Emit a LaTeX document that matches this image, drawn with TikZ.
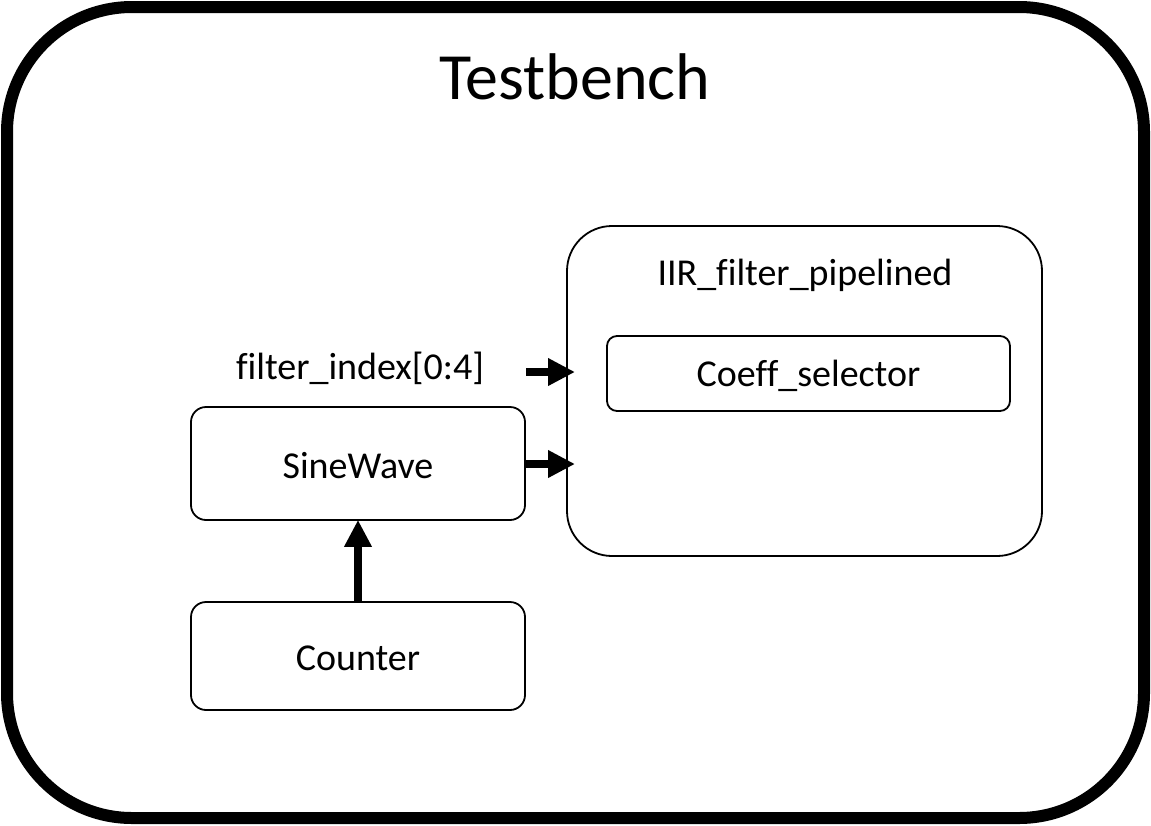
\documentclass[tikz,border=0pt]{standalone}
\usepackage{fontspec}
\setmainfont{Carlito}[Ligatures=NoCommon]
\usetikzlibrary{arrows.meta}
\tikzset{
  blk/.style={draw=black, line width=1.8pt, rounded corners=15pt, inner sep=0pt},
  lbl/.style={inner sep=0pt, font=\fontsize{38}{46}\selectfont},
  bigarrow/.style={line width=8pt, -{Triangle[length=27pt,width=26pt]}}
}
\begin{document}
\begin{tikzpicture}[x=1pt,y=-1pt]
\useasboundingbox (0,0) rectangle (1151,825);
% outer frame
\draw[line width=12pt, rounded corners=125pt] (7,7) rectangle (1144,818);
\node[inner sep=0pt, font=\fontsize{66}{78}\selectfont] (title) at (575,77) {Testbench};
% IIR
\draw[line width=1.8pt, rounded corners=45pt] (567,226) rectangle (1042,556);
\node[lbl] (iir) at (805,275) {IIR\_filter\_pipelined};
\node[blk, rounded corners=10pt, minimum width=403pt, minimum height=75pt] (coeff) at (808.5,373.5) {};
\node[lbl] at ([yshift=-2pt]coeff.center) {Coeff\_selector};
% SineWave and Counter
\node[blk, minimum width=334pt, minimum height=113pt] (sine) at (358,463.5) {};
\node[lbl] at ([yshift=-2pt]sine.center) {SineWave};
\node[blk, minimum width=334pt, minimum height=108pt] (counter) at (358,656) {};
\node[lbl] at ([yshift=-2pt]counter.center) {Counter};
\node[lbl] (fidx) at (360,368) {filter\_index[0:4]};
% arrows
\coordinate (a1s) at (526,372);
\coordinate (a1e) at (575,372);
\coordinate (a2e) at (575,464);
\draw[bigarrow] (a1s) -- (a1e);
\draw[bigarrow] (sine.east |- a2e) -- (a2e);
\draw[bigarrow] (counter.north) -- ([yshift=1pt]sine.south);
\end{tikzpicture}
\end{document}
